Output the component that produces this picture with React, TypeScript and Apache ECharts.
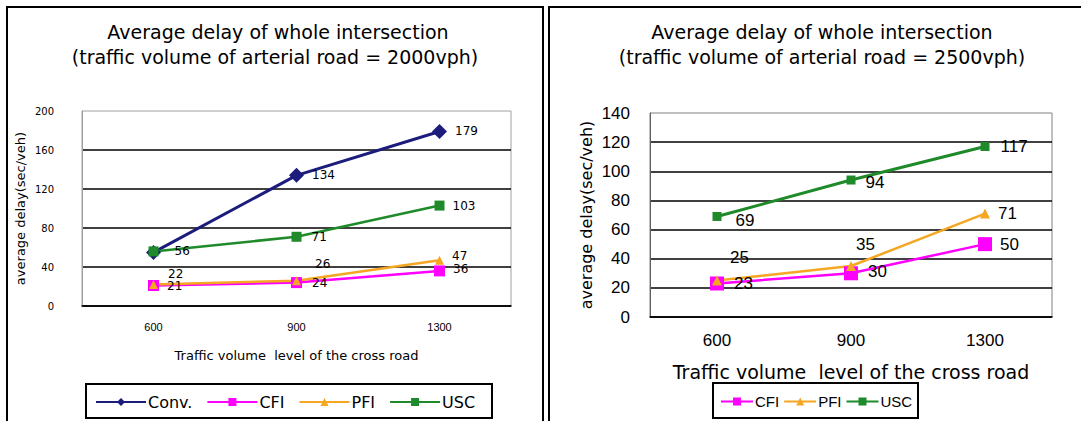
import React, { useEffect, useRef } from "react";
import * as echarts from "echarts";

const categories = ["600", "900", "1300"];

// Left chart (arterial road = 2000vph)
const convLeft = [55, 134, 179];
const cfiLeft = [21, 24, 36];
const pfiLeft = [22, 26, 47];
const uscLeft = [56, 71, 103];

// Right chart (arterial road = 2500vph)
const cfiRight = [23, 30, 50];
const pfiRight = [25, 35, 71];
const uscRight = [69, 94, 117];

const leftYTicks = { min: 0, max: 200, interval: 40 };
const rightYTicks = { min: 0, max: 140, interval: 20 };

const titleLine1 = "Average delay of whole intersection";
const titleLeft2 = "(traffic volume of arterial road = 2000vph)";
const titleRight2 = "(traffic volume of arterial road = 2500vph)";
const xName = "Traffic volume  level of the cross road";
const yName = "average delay(sec/veh)";

const NAVY = "#1c1c7c";
const MAGENTA = "#ff00ff";
const ORANGE = "#f5a623";
const GREEN = "#1f8a2a";

const DEJA = "'DejaVu Sans', 'Liberation Sans', sans-serif";
const SANS = "'Liberation Sans', Arial, sans-serif";

// label placement per point: [show, dx, dy]
type LP = [boolean, number, number];
const convLeftLbl: LP[] = [[false, 0, 0], [true, 0, 0], [true, 0, 0]];
const cfiLeftLbl: LP[] = [[true, 0, 0], [true, 2, 0], [true, 0, -2]];
const pfiLeftLbl: LP[] = [[true, 2, -11], [true, 6, -17], [true, 0, -4]];
const uscLeftLbl: LP[] = [[true, 8, 0], [true, 2, 0], [true, 0, 0]];
const cfiRightLbl: LP[] = [[true, 2, 0], [true, 2, -2], [true, 0, 0]];
const pfiRightLbl: LP[] = [[true, 0, -23], [true, -8, -22], [true, 0, 0]];
const uscRightLbl: LP[] = [[true, 6, 4], [true, 2, 2], [true, 3, 0]];

function mk(values: number[], lbl: LP[], font: number, family: string) {
  return values.map((v, i) => ({
    value: v,
    label: {
      show: lbl[i][0],
      position: "right",
      distance: 8,
      offset: [lbl[i][1], lbl[i][2]],
      color: "#000",
      fontSize: font,
      fontFamily: family,
    },
  }));
}

export default function App() {
  const ref = useRef<HTMLDivElement>(null);
  useEffect(() => {
    if (!ref.current) return;
    const chart = echarts.init(ref.current, undefined, { renderer: "svg" });
    const leftLblFont = 12;
    const rightLblFont = 17;
    const titleFont = `19px ${DEJA}`;
    const option: any = {
      animation: false,
      backgroundColor: "#fff",
      graphic: [
        { type: "rect", shape: { x: 7, y: 7, width: 536, height: 430 }, style: { fill: "none", stroke: "#000", lineWidth: 2 }, silent: true },
        { type: "rect", shape: { x: 549, y: 7, width: 545, height: 430 }, style: { fill: "none", stroke: "#000", lineWidth: 2 }, silent: true },
        { type: "text", x: 278, y: 32, style: { text: titleLine1, textAlign: "center", textVerticalAlign: "middle", font: titleFont, fill: "#000" } },
        { type: "text", x: 275, y: 57, style: { text: titleLeft2, textAlign: "center", textVerticalAlign: "middle", font: titleFont, fill: "#000" } },
        { type: "text", x: 822, y: 32, style: { text: titleLine1, textAlign: "center", textVerticalAlign: "middle", font: titleFont, fill: "#000" } },
        { type: "text", x: 822, y: 57, style: { text: titleRight2, textAlign: "center", textVerticalAlign: "middle", font: titleFont, fill: "#000" } },
        { type: "rect", shape: { x: 86, y: 384, width: 406, height: 34 }, style: { fill: "none", stroke: "#000", lineWidth: 2 }, silent: true },
        { type: "rect", shape: { x: 713, y: 383, width: 205, height: 35 }, style: { fill: "none", stroke: "#000", lineWidth: 2 }, silent: true },
      ],
      legend: [
        {
          data: ["Conv.", "CFI", "PFI", "USC"],
          left: 90,
          top: 389,
          itemWidth: 50,
          itemHeight: 10,
          itemGap: 14,
          textStyle: { fontSize: 16, fontFamily: DEJA, color: "#000", padding: [0, 0, 0, -3] },
        },
        {
          data: ["CFI", "PFI", "USC"],
          left: 715,
          top: 389,
          itemWidth: 32,
          itemHeight: 10,
          itemGap: 4,
          textStyle: { fontSize: 15, fontFamily: SANS, color: "#000", padding: [0, 0, 0, -3] },
        },
      ],
      grid: [
        { left: 82, top: 111, width: 429, height: 195, show: true, borderColor: "#a0a0a0", borderWidth: 1 },
        { left: 650, top: 113, width: 402, height: 204, show: true, borderColor: "#808080", borderWidth: 1 },
      ],
      xAxis: [
        {
          gridIndex: 0,
          type: "category",
          data: categories,
          boundaryGap: true,
          axisLine: { lineStyle: { color: "#000", width: 1.5 } },
          axisTick: { inside: true, length: 4, lineStyle: { color: "#000", width: 2 } },
          axisLabel: { color: "#000", fontSize: 11, fontFamily: SANS, margin: 15 },
          name: xName,
          nameLocation: "middle",
          nameGap: 43,
          nameTextStyle: { color: "#000", fontSize: 13, fontFamily: DEJA },
        },
        {
          gridIndex: 1,
          type: "category",
          data: categories,
          boundaryGap: true,
          axisLine: { lineStyle: { color: "#000", width: 1.5 } },
          axisTick: { inside: true, length: 4, lineStyle: { color: "#000" } },
          axisLabel: { color: "#000", fontSize: 17, fontFamily: SANS, margin: 15 },
          name: xName,
          nameLocation: "middle",
          nameGap: 45,
          nameTextStyle: { color: "#000", fontSize: 19, fontFamily: DEJA },
        },
      ],
      yAxis: [
        {
          gridIndex: 0,
          type: "value",
          ...leftYTicks,
          axisLine: { show: true, lineStyle: { color: "#a0a0a0" } },
          axisTick: { show: false },
          splitLine: { show: true, showMaxLine: false, lineStyle: { color: "#000", width: 1.5 } },
          axisLabel: { color: "#000", fontSize: 10, fontFamily: DEJA, margin: 28 },
          name: yName,
          nameLocation: "middle",
          nameRotate: 90,
          nameGap: 55,
          nameTextStyle: { color: "#000", fontSize: 13, fontFamily: DEJA },
        },
        {
          gridIndex: 1,
          type: "value",
          ...rightYTicks,
          axisLine: { show: true, lineStyle: { color: "#606060" } },
          axisTick: { show: false },
          splitLine: { show: true, showMaxLine: false, lineStyle: { color: "#000", width: 1.5 } },
          axisLabel: { color: "#000", fontSize: 17, fontFamily: SANS, margin: 20 },
          name: yName,
          nameLocation: "middle",
          nameRotate: 90,
          nameGap: 56,
          nameTextStyle: { color: "#000", fontSize: 16, fontFamily: DEJA },
        },
      ],
      series: [
        {
          name: "Conv.", type: "line", xAxisIndex: 0, yAxisIndex: 0,
          data: mk(convLeft, convLeftLbl, leftLblFont, DEJA),
          symbol: "diamond", symbolSize: 15,
          lineStyle: { color: NAVY, width: 3 }, itemStyle: { color: NAVY },
        },
        {
          name: "CFI", type: "line", xAxisIndex: 0, yAxisIndex: 0,
          data: mk(cfiLeft, cfiLeftLbl, leftLblFont, DEJA),
          symbol: "rect", symbolSize: 11,
          lineStyle: { color: MAGENTA, width: 2.5 }, itemStyle: { color: MAGENTA },
        },
        {
          name: "PFI", type: "line", xAxisIndex: 0, yAxisIndex: 0,
          data: mk(pfiLeft, pfiLeftLbl, leftLblFont, DEJA),
          symbol: "triangle", symbolSize: 9,
          lineStyle: { color: ORANGE, width: 2.5 }, itemStyle: { color: ORANGE },
        },
        {
          name: "USC", type: "line", xAxisIndex: 0, yAxisIndex: 0,
          data: mk(uscLeft, uscLeftLbl, leftLblFont, DEJA),
          symbol: "rect", symbolSize: 10,
          lineStyle: { color: GREEN, width: 2.5 }, itemStyle: { color: GREEN },
        },
        {
          name: "CFI", type: "line", xAxisIndex: 1, yAxisIndex: 1,
          data: mk(cfiRight, cfiRightLbl, rightLblFont, SANS),
          symbol: "rect", symbolSize: 14,
          lineStyle: { color: MAGENTA, width: 2.5 }, itemStyle: { color: MAGENTA },
        },
        {
          name: "PFI", type: "line", xAxisIndex: 1, yAxisIndex: 1,
          data: mk(pfiRight, pfiRightLbl, rightLblFont, SANS),
          symbol: "triangle", symbolSize: 10,
          lineStyle: { color: ORANGE, width: 2.5 }, itemStyle: { color: ORANGE },
        },
        {
          name: "USC", type: "line", xAxisIndex: 1, yAxisIndex: 1,
          data: mk(uscRight, uscRightLbl, rightLblFont, SANS),
          symbol: "rect", symbolSize: 9,
          lineStyle: { color: GREEN, width: 3 }, itemStyle: { color: GREEN },
        },
      ],
    };
    chart.setOption(option);
    return () => chart.dispose();
  }, []);
  return (
    <div
      ref={ref}
      style={{ position: "absolute", left: 0, top: 0, width: 1081, height: 421 }}
    />
  );
}
